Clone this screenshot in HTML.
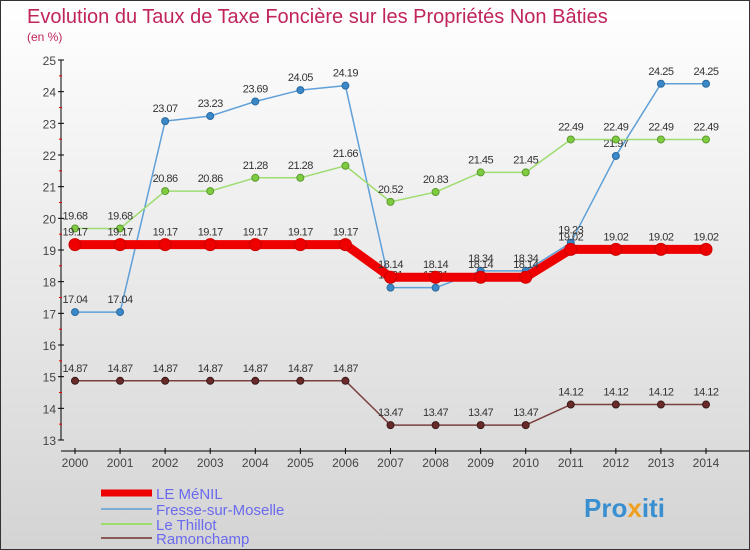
<!DOCTYPE html>
<html><head><meta charset="utf-8"><style>
body{margin:0}
#c{width:748px;height:548px;border:1px solid #333;background:linear-gradient(#ffffff,#f2f2f2 30%,#d4d4d4);position:relative;font-family:"Liberation Sans",sans-serif;overflow:hidden}
svg{position:absolute;left:0;top:0}
</style></head><body>
<div id="c">
<svg id="s" width="748" height="548" xmlns="http://www.w3.org/2000/svg">
<text x="26" y="22" font-size="20" fill="#c0245c">Evolution du Taux de Taxe Foncière sur les Propriétés Non Bâties</text>
<text x="26" y="40" font-size="12" fill="#c0245c">(en %)</text>
<g id="g"></g>
<g>
<line x1="100" y1="492" x2="151" y2="492" stroke="#e00" stroke-width="7"/>
<text x="155" y="498" font-size="15" fill="#6a6aee">LE MéNIL</text>
<line x1="100" y1="508" x2="151" y2="508" stroke="#7aaed6" stroke-width="2"/>
<text x="155" y="514" font-size="15" fill="#6a6aee">Fresse-sur-Moselle</text>
<line x1="100" y1="523" x2="151" y2="523" stroke="#9edc70" stroke-width="2"/>
<text x="155" y="529" font-size="15" fill="#6a6aee">Le Thillot</text>
<line x1="100" y1="537" x2="151" y2="537" stroke="#8a5a5a" stroke-width="2"/>
<text x="155" y="543" font-size="15" fill="#6a6aee">Ramonchamp</text>
</g>
<text x="583" y="516" font-size="26" font-weight="bold" fill="#3a8fd0">Pro<tspan fill="#f0a020">x</tspan>iti</text>
</svg>
</div>
<script>
const years=[2000,2001,2002,2003,2004,2005,2006,2007,2008,2009,2010,2011,2012,2013,2014];
const menil=[19.17,19.17,19.17,19.17,19.17,19.17,19.17,18.14,18.14,18.14,18.14,19.02,19.02,19.02,19.02];
const fresse=[17.04,17.04,23.07,23.23,23.69,24.05,24.19,17.81,17.81,18.34,18.34,19.23,21.97,24.25,24.25];
const thillot=[19.68,19.68,20.86,20.86,21.28,21.28,21.66,20.52,20.83,21.45,21.45,22.49,22.49,22.49,22.49];
const ramon=[14.87,14.87,14.87,14.87,14.87,14.87,14.87,13.47,13.47,13.47,13.47,14.12,14.12,14.12,14.12];
const yTicks=[13,14,15,16,17,18,19,20,21,22,23,24,25];
const NS="http://www.w3.org/2000/svg";
const g=document.getElementById('g');
const X=i=>74+i*(705-74)/(years.length-1);
const Y=v=>439-(v-13)*(439-59)/12;
function mk(t,a,p){const e=document.createElementNS(NS,t);for(const k in a)e.setAttribute(k,a[k]);(p||g).appendChild(e);return e;}
let ax=mk('line',{x1:60,y1:59,x2:60,y2:439,stroke:'#000'});


let xa=mk('line',{x1:60,y1:450,x2:748,y2:450,stroke:'#000'});


yTicks.forEach(v=>{mk('line',{x1:57,y1:Y(v),x2:63,y2:Y(v),stroke:'#000'});
 if(v<25)mk('line',{x1:58,y1:Y(v+0.5),x2:61,y2:Y(v+0.5),stroke:'#e00'});
 const t=mk('text',{x:55,y:Y(v)+5,'font-size':12,fill:'#444','text-anchor':'end'});t.textContent=v;
 
 });
years.forEach((yr,i)=>{mk('line',{x1:X(i),y1:447,x2:X(i),y2:453,stroke:'#000'});
 const t=mk('text',{x:X(i),y:466,'font-size':12,fill:'#444','text-anchor':'middle'});t.textContent=yr;
 
 });
function series(vals,name,color,w,r,fill,lc){
 const s=mk('g',{});
 
 
 mk('polyline',{points:vals.map((v,i)=>X(i)+','+Y(v)).join(' '),fill:'none',stroke:color,'stroke-width':w,'stroke-linejoin':'round'},s);
 vals.forEach((v,i)=>{const c=mk('circle',{cx:X(i),cy:Y(v),r:r,fill:fill,stroke:lc,'stroke-width':1},s);
  
  
  const t=mk('text',{x:X(i),y:Y(v)-9,'font-size':11,fill:'#333','text-anchor':'middle','letter-spacing':'-0.5'},s);t.textContent=v.toFixed(2).replace(/0$/,'').replace(/\.$/,'');
  
  });
}
series(ramon,'ramonchamp','#7a4040',1.5,3.5,'#6a2a2a','#3a1a1a');
series(fresse,'fresse','#5fa0d8',1.5,3.5,'#3a88c8','#2a6aa0');
series(thillot,'thillot','#9edc70',1.5,3.5,'#80cc40','#5a9a30');
series(menil,'le-menil','#ee0000',9,6,'#ee0000','#cc0000');
</script>
</body></html>
